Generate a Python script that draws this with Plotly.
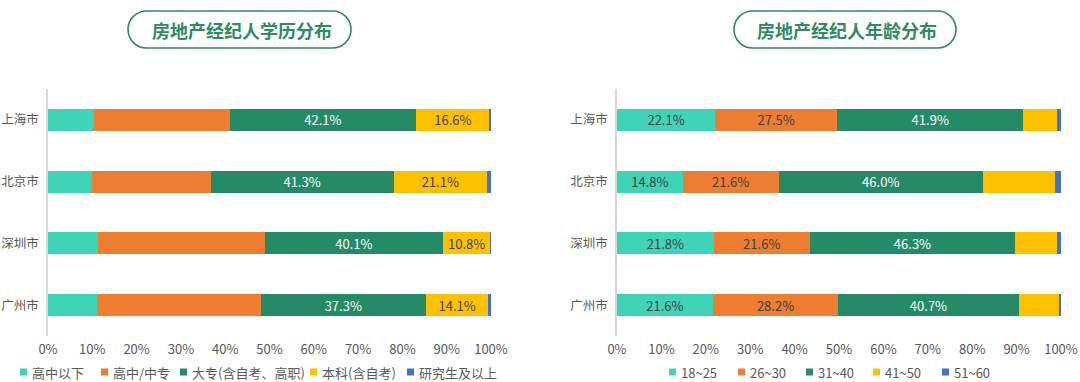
import plotly.graph_objects as go

cities = ["上海市", "北京市", "深圳市", "广州市"]

edu_names = ["高中以下", "高中/中专", "大专(含自考、高职)", "本科(含自考)", "研究生及以上"]
edu_below_hs = [10.3, 9.9, 11.3, 11.0]
edu_hs = [30.7, 26.8, 37.7, 37.0]
edu_college = [42.1, 41.3, 40.1, 37.3]
edu_bachelor = [16.6, 21.1, 10.8, 14.1]
edu_master = [0.3, 0.9, 0.1, 0.6]
edu_labeled = [False, False, True, True, False]

age_names = ["18~25", "26~30", "31~40", "41~50", "51~60"]
age_18_25 = [22.1, 14.8, 21.8, 21.6]
age_26_30 = [27.5, 21.6, 21.6, 28.2]
age_31_40 = [41.9, 46.0, 46.3, 40.7]
age_41_50 = [7.5, 16.2, 9.4, 9.0]
age_51_60 = [1.0, 1.4, 0.9, 0.5]
age_labeled = [True, True, True, False, False]

x_ticks = [0, 10, 20, 30, 40, 50, 60, 70, 80, 90, 100]
x_tick_labels = [f"{v}%" for v in x_ticks]

titles = ["房地产经纪人学历分布", "房地产经纪人年龄分布"]

colors = ["#3FD4B7", "#ED7D31", "#258B66", "#FFC000", "#4472C4"]
text_colors = ["#404040", "#404040", "#FFFFFF", "#404040", "#FFFFFF"]
FONT = "Noto Sans CJK SC, Microsoft YaHei, sans-serif"
W, H = 1080, 382

# legend marker left edges (px) for each chart, styling only
edu_legend_x = [20, 101, 180, 310, 407]
age_legend_x = [669, 738, 806, 873, 942]


def px_x(p):
    return p / W


def px_y(p):
    return 1 - p / H


fig = go.Figure()

edu_series = [edu_below_hs, edu_hs, edu_college, edu_bachelor, edu_master]
age_series = [age_18_25, age_26_30, age_31_40, age_41_50, age_51_60]

for i, (name, vals) in enumerate(zip(edu_names, edu_series)):
    fig.add_trace(go.Bar(
        y=cities, x=vals, name=name, orientation="h",
        marker=dict(color=colors[i], line=dict(width=0)),
        text=[f"{v:.1f}%" for v in vals] if edu_labeled[i] else None,
        textposition="inside" if edu_labeled[i] else "none",
        insidetextanchor="middle", constraintext="none",
        textfont=dict(color=text_colors[i], size=13, family=FONT),
        xaxis="x", yaxis="y", showlegend=False,
        hoverinfo="x+y+name",
    ))

for i, (name, vals) in enumerate(zip(age_names, age_series)):
    fig.add_trace(go.Bar(
        y=cities, x=vals, name=name, orientation="h",
        marker=dict(color=colors[i], line=dict(width=0)),
        text=[f"{v:.1f}%" for v in vals] if age_labeled[i] else None,
        textposition="inside" if age_labeled[i] else "none",
        insidetextanchor="middle", constraintext="none",
        textfont=dict(color=text_colors[i], size=13, family=FONT),
        xaxis="x2", yaxis="y2", showlegend=False,
        hoverinfo="x+y+name",
    ))

y_dom = [px_y(336), px_y(89)]

xaxis_common = dict(
    range=[0, 100], tickvals=x_ticks, ticktext=x_tick_labels,
    showgrid=False, zeroline=False, showline=False, ticks="",
    tickfont=dict(size=13, color="#595959", family=FONT),
    fixedrange=True, ticklabelstandoff=4, automargin=False,
)
yaxis_common = dict(
    categoryorder="array", categoryarray=cities[::-1],
    showgrid=False, zeroline=False, showline=True, linecolor="#D9D9D9",
    linewidth=1.5, ticks="", tickfont=dict(size=12.5, color="#595959", family=FONT),
    domain=y_dom, ticklabelstandoff=5, automargin=False, fixedrange=True,
)

fig.update_layout(
    width=W, height=H,
    margin=dict(l=0, r=0, t=0, b=0),
    paper_bgcolor="white", plot_bgcolor="white",
    barmode="stack", bargap=0.645,
    font=dict(family=FONT, color="#595959"),
    xaxis=dict(domain=[px_x(48), px_x(491)], anchor="y", **xaxis_common),
    yaxis=dict(anchor="x", **yaxis_common),
    xaxis2=dict(domain=[px_x(617), px_x(1061)], anchor="y2", **xaxis_common),
    yaxis2=dict(anchor="x2", **yaxis_common),
    showlegend=False,
)

# custom legends built from series names and colours
for names, xs in ((edu_names, edu_legend_x), (age_names, age_legend_x)):
    for i, (name, lx) in enumerate(zip(names, xs)):
        fig.add_shape(type="rect", xref="paper", yref="paper",
                      x0=px_x(lx), x1=px_x(lx + 7), y0=px_y(375.5), y1=px_y(368.5),
                      fillcolor=colors[i], line=dict(width=0))
        fig.add_annotation(x=px_x(lx + 10), y=px_y(372), xref="paper", yref="paper",
                           text=name, showarrow=False, xanchor="left", yanchor="middle",
                           font=dict(size=13, color="#595959", family=FONT))


def pill_path(x0, x1, y0, y1):
    r = (y1 - y0) / 2
    k = 0.5523 * r
    cy = (y0 + y1) / 2

    def P(x, y):
        return f"{px_x(x):.5f},{px_y(y):.5f}"
    path = f"M {P(x0 + r, y0)} L {P(x1 - r, y0)} "
    path += f"C {P(x1 - r + k, y0)} {P(x1, cy - k)} {P(x1, cy)} "
    path += f"C {P(x1, cy + k)} {P(x1 - r + k, y1)} {P(x1 - r, y1)} "
    path += f"L {P(x0 + r, y1)} "
    path += f"C {P(x0 + r - k, y1)} {P(x0, cy + k)} {P(x0, cy)} "
    path += f"C {P(x0, cy - k)} {P(x0 + r - k, y0)} {P(x0 + r, y0)} Z"
    return path


boxes = [(128, 351), (734, 956)]
for (bx0, bx1), title in zip(boxes, titles):
    fig.add_shape(type="path", xref="paper", yref="paper",
                  path=pill_path(bx0, bx1, 11, 48),
                  line=dict(color="#2E8B62", width=1.6), fillcolor="white", layer="above")
    fig.add_annotation(x=px_x((bx0 + bx1) / 2 + 2), y=px_y(30), xref="paper", yref="paper",
                       text=f"<b>{title}</b>", showarrow=False,
                       font=dict(size=18, color="#2E8B62", family=FONT),
                       xanchor="center", yanchor="middle")

fig.write_html("out.html",
               config={"displayModeBar": False},
               post_script="document.body.style.margin='0';document.body.style.overflow='hidden';")
